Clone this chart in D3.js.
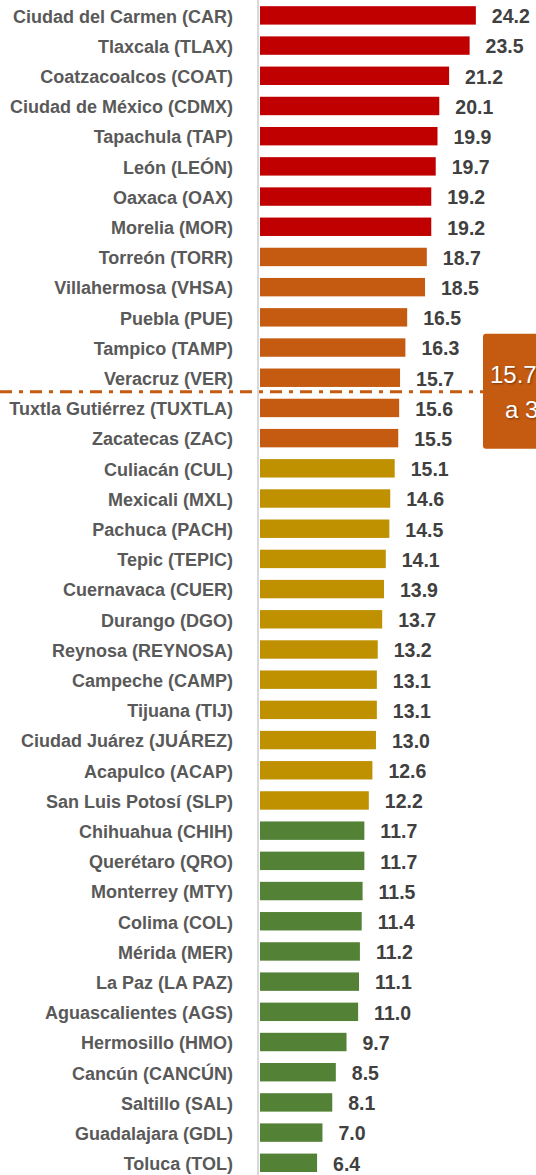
<!DOCTYPE html>
<meta charset="utf-8">
<title>Ciudades</title>
<style>
body { margin: 0; background: #fff; }
.cat { font: bold 18px "Liberation Sans", sans-serif; fill: #595959; }
.val { font: bold 19.5px "Liberation Sans", sans-serif; fill: #404040; }
</style>
<svg width="536" height="1175"></svg>
<script src="https://d3js.org/d3.v7.min.js"></script>
<script>

var cities = ["Ciudad del Carmen (CAR)","Tlaxcala (TLAX)","Coatzacoalcos (COAT)","Ciudad de México (CDMX)",
  "Tapachula (TAP)","León (LEÓN)","Oaxaca (OAX)","Morelia (MOR)","Torreón (TORR)","Villahermosa (VHSA)",
  "Puebla (PUE)","Tampico (TAMP)","Veracruz (VER)","Tuxtla Gutiérrez (TUXTLA)","Zacatecas (ZAC)",
  "Culiacán (CUL)","Mexicali (MXL)","Pachuca (PACH)","Tepic (TEPIC)","Cuernavaca (CUER)","Durango (DGO)",
  "Reynosa (REYNOSA)","Campeche (CAMP)","Tijuana (TIJ)","Ciudad Juárez (JUÁREZ)","Acapulco (ACAP)",
  "San Luis Potosí (SLP)","Chihuahua (CHIH)","Querétaro (QRO)","Monterrey (MTY)","Colima (COL)",
  "Mérida (MER)","La Paz (LA PAZ)","Aguascalientes (AGS)","Hermosillo (HMO)","Cancún (CANCÚN)",
  "Saltillo (SAL)","Guadalajara (GDL)","Toluca (TOL)"];
var values = [24.2,23.5,21.2,20.1,19.9,19.7,19.2,19.2,18.7,18.5,16.5,16.3,15.7,15.6,15.5,
  15.1,14.6,14.5,14.1,13.9,13.7,13.2,13.1,13.1,13.0,12.6,12.2,
  11.7,11.7,11.5,11.4,11.2,11.1,11.0,9.7,8.5,8.1,7.0,6.4];
var groups = [0,0,0,0,0,0,0,0,1,1,1,1,1,1,1,2,2,2,2,2,2,2,2,2,2,2,2,3,3,3,3,3,3,3,3,3,3,3,3];
var groupColors = ["#c00000","#c55a11","#bf9000","#538135"];
var average = 15.7;
var avgLabel = ["15.7 promedio", "a 39 ciudades"];

var data = cities.map(function(c, i) { return {name: c, value: values[i], group: groups[i]}; });

var svg = d3.select("svg");

var x = d3.scaleLinear().domain([0, 25]).range([260, 483]);
var y = d3.scaleBand().domain(cities).range([0.3, 1177.9]).paddingInner(0.39).paddingOuter(0.195);

// axis line
svg.append("line")
  .attr("x1", x(0) - 2).attr("x2", x(0) - 2)
  .attr("y1", 0).attr("y2", 1175)
  .attr("stroke", "#d9d9d9").attr("stroke-width", 2);

svg.selectAll(".bar")
  .data(data)
  .enter().append("rect")
    .attr("class", "bar")
    .attr("x", x(0))
    .attr("y", d => y(d.name))
    .attr("width", d => x(d.value) - x(0))
    .attr("height", y.bandwidth())
    .attr("fill", d => groupColors[d.group]);

svg.selectAll(".cat")
  .data(data)
  .enter().append("text")
    .attr("class", "cat")
    .attr("x", 233)
    .attr("y", d => y(d.name) + y.bandwidth() / 2 + 1)
    .attr("dy", "0.35em")
    .attr("text-anchor", "end")
    .text(d => d.name);

svg.selectAll(".val")
  .data(data)
  .enter().append("text")
    .attr("class", "val")
    .attr("x", d => x(d.value) + 16)
    .attr("y", d => y(d.name) + y.bandwidth() / 2 + 1)
    .attr("dy", "0.35em")
    .text(d => d.value.toFixed(1));

// average line, between Veracruz and Tuxtla
var avgY = (y("Veracruz (VER)") + y.bandwidth() + y("Tuxtla Gutiérrez (TUXTLA)")) / 2 - 1;
svg.append("line")
  .attr("x1", 0).attr("x2", 485)
  .attr("y1", avgY).attr("y2", avgY)
  .attr("stroke", "#c55a11").attr("stroke-width", 3)
  .attr("stroke-dasharray", "12,7,4,7");

var box = svg.append("g").attr("transform", "translate(483," + (avgY - 58) + ")");
box.append("rect")
  .attr("width", 70).attr("height", 115).attr("rx", 3)
  .attr("fill", "#c55a11");
box.selectAll("text")
  .data(avgLabel)
  .enter().append("text")
    .attr("x", (d, i) => i ? 22 : 7)
    .attr("y", (d, i) => 49 + i * 35)
    .attr("fill", "#fff")
    .style("font", "24px 'Liberation Sans', sans-serif")
    .style("text-shadow", "1px 1px 2px rgba(0,0,0,0.4)")
    .text(d => d);

</script>
